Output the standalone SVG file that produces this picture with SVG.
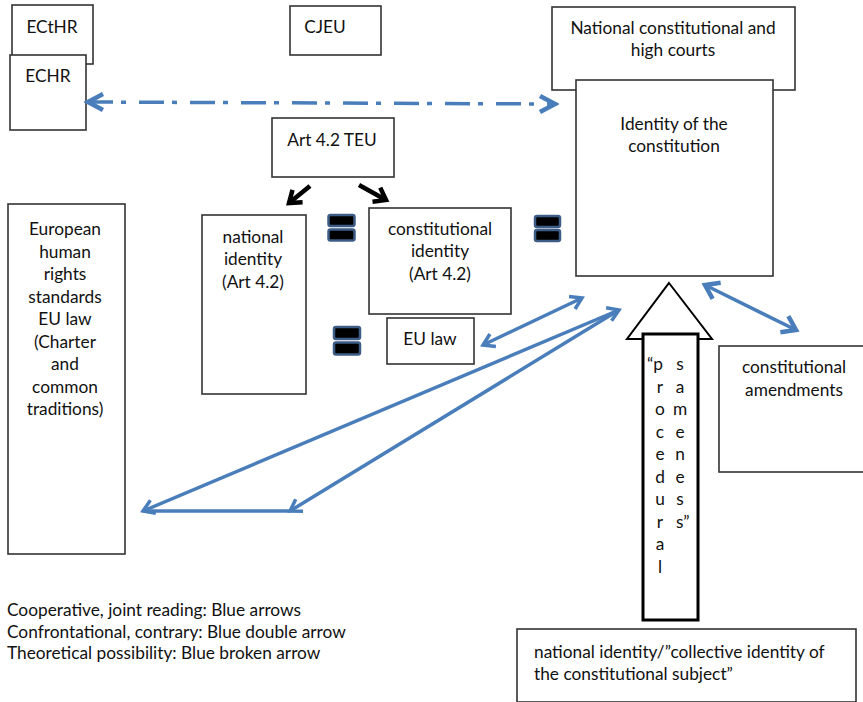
<svg xmlns="http://www.w3.org/2000/svg" width="863" height="702" viewBox="0 0 863 702">
<style>
.box{fill:#fff;stroke:#333;stroke-width:1.6}
.t{font-family:Lato,"Open Sans","Liberation Sans",sans-serif;font-size:17.3px;fill:#111}
.c{text-anchor:middle}
.blue{fill:none;stroke:#4A7EBB;stroke-width:3.5}
.blk{fill:none;stroke:#000;stroke-width:4.5}
.eq{fill:#000;stroke:#3E5D86;stroke-width:2.5}
</style>
<defs>
<marker id="bh" markerUnits="userSpaceOnUse" viewBox="-16 -10 20 20" refX="0" refY="0" markerWidth="20" markerHeight="20" orient="auto-start-reverse">
<path d="M-11,-7 L0,0 L-11,7" fill="none" stroke="#4A7EBB" stroke-width="3.5"/>
</marker>
<marker id="bhd" markerUnits="userSpaceOnUse" viewBox="-20 -12 24 24" refX="0" refY="0" markerWidth="24" markerHeight="24" orient="auto-start-reverse">
<path d="M-15,-8 L0,0 L-15,8" fill="none" stroke="#4A7EBB" stroke-width="4.5"/>
</marker>
<marker id="bhw" markerUnits="userSpaceOnUse" viewBox="-20 -12 24 24" refX="0" refY="0" markerWidth="24" markerHeight="24" orient="auto-start-reverse">
<path d="M-13,-9 L0,0 L-13,9" fill="none" stroke="#4A7EBB" stroke-width="4.5"/>
</marker>
<marker id="kh" markerUnits="userSpaceOnUse" viewBox="-16 -12 20 24" refX="0" refY="0" markerWidth="20" markerHeight="24" orient="auto">
<path d="M-11,-8 L0,0 L-11,8" fill="none" stroke="#000" stroke-width="4.5"/>
</marker>
</defs>

<g id="ecthr"><rect class="box" x="12" y="5" width="81" height="59"/><text class="t c" x="52" y="33">ECtHR</text></g>
<g id="echr"><rect class="box" x="10" y="55" width="76" height="75"/><text class="t c" x="48" y="82">ECHR</text></g>
<g id="cjeu"><rect class="box" x="290" y="6" width="91" height="49"/><text class="t c" x="325" y="33">CJEU</text></g>
<g id="courts"><rect class="box" x="552" y="7" width="243" height="83"/><text class="t c" x="673" y="34">National constitutional and</text><text class="t c" x="673" y="56">high courts</text></g>
<g id="identity-constitution"><rect class="box" x="576" y="80" width="197" height="196"/><text class="t c" x="674" y="130">Identity of the</text><text class="t c" x="674" y="152">constitution</text></g>
<g id="art42"><rect class="box" x="272" y="118" width="122" height="59"/><text class="t c" x="332" y="146">Art 4.2 TEU</text></g>
<g id="european"><rect class="box" x="8" y="204" width="117" height="350"/>
<text class="t c" x="65" y="235">European</text><text class="t c" x="65" y="257.5">human</text><text class="t c" x="65" y="280">rights</text><text class="t c" x="65" y="302.5">standards</text><text class="t c" x="65" y="325">EU law</text><text class="t c" x="65" y="347.5">(Charter</text><text class="t c" x="65" y="370">and</text><text class="t c" x="65" y="392.5">common</text><text class="t c" x="65" y="415">traditions)</text></g>
<g id="national-identity"><rect class="box" x="202" y="215" width="104" height="179"/><text class="t c" x="253" y="243">national</text><text class="t c" x="253" y="265">identity</text><text class="t c" x="253" y="288">(Art 4.2)</text></g>
<g id="constitutional-identity"><rect class="box" x="369" y="208" width="142" height="106"/><text class="t c" x="440" y="235">constitutional</text><text class="t c" x="440" y="257">identity</text><text class="t c" x="440" y="280">(Art 4.2)</text></g>
<g id="eu-law"><rect class="box" x="387" y="318" width="87" height="46"/><text class="t c" x="430" y="345">EU law</text></g>
<g id="amendments"><rect class="box" x="719" y="346" width="150" height="126"/><text class="t c" x="794" y="373">constitutional</text><text class="t c" x="794" y="396">amendments</text></g>
<g id="collective"><rect class="box" x="517" y="629" width="339" height="73"/><text class="t" x="534" y="658">national identity/”collective identity of</text><text class="t" x="534" y="680">the constitutional subject”</text></g>

<g id="equals1"><rect class="eq" x="328.5" y="215" width="26" height="11" rx="2"/><rect class="eq" x="328.5" y="229.5" width="26" height="11" rx="2"/></g>
<g id="equals2"><rect class="eq" x="535" y="216" width="25" height="11" rx="2"/><rect class="eq" x="535" y="230" width="25" height="11" rx="2"/></g>
<g id="equals3"><rect class="eq" x="334" y="327" width="26" height="12" rx="2"/><rect class="eq" x="334" y="342.5" width="26" height="12" rx="2"/></g>

<g id="procedural">
<path d="M669,283 L712,339 L627,339 Z" fill="#fff" stroke="#000" stroke-width="2"/>
<rect x="643" y="334" width="55" height="286" fill="#fff" stroke="#000" stroke-width="3"/>
<text class="t" x="647" y="370">“p</text>
<text class="t c" x="660" y="392.5">r</text><text class="t c" x="660" y="415">o</text><text class="t c" x="660" y="437.5">c</text><text class="t c" x="660" y="460">e</text><text class="t c" x="660" y="482.5">d</text><text class="t c" x="660" y="505">u</text><text class="t c" x="660" y="527.5">r</text><text class="t c" x="660" y="550">a</text><text class="t c" x="660" y="572.5">l</text>
<text class="t c" x="680" y="370">s</text><text class="t c" x="680" y="392.5">a</text><text class="t c" x="680" y="415">m</text><text class="t c" x="680" y="437.5">e</text><text class="t c" x="680" y="460">n</text><text class="t c" x="680" y="482.5">e</text><text class="t c" x="680" y="505">s</text><text class="t" x="676" y="527.5">s”</text>
</g>

<g id="connectors">
<line x1="88" y1="102" x2="555" y2="104" class="blue" stroke-width="4.5" stroke-dasharray="25 8 5 13" marker-start="url(#bhd)" marker-end="url(#bhd)"/>
<line x1="310" y1="186" x2="289" y2="203" class="blk" marker-end="url(#kh)"/>
<line x1="359" y1="185" x2="386" y2="200" class="blk" marker-end="url(#kh)"/>
<line x1="483" y1="345" x2="582" y2="298" class="blue" marker-start="url(#bh)" marker-end="url(#bh)"/>
<line x1="143" y1="511" x2="619" y2="310" class="blue" marker-start="url(#bh)" marker-end="url(#bh)"/>
<line x1="290" y1="511" x2="619" y2="310" class="blue" marker-start="url(#bh)"/>
<line x1="143" y1="511" x2="290" y2="511" class="blue"/>
<line x1="705" y1="285" x2="796" y2="330" class="blue" stroke-width="4.5" marker-start="url(#bhw)" marker-end="url(#bhw)"/>
</g>

<g id="legend">
<text class="t" x="7" y="616">Cooperative, joint reading: Blue arrows</text>
<text class="t" x="7" y="638">Confrontational, contrary: Blue double arrow</text>
<text class="t" x="7" y="659">Theoretical possibility: Blue broken arrow</text>
</g>
</svg>
